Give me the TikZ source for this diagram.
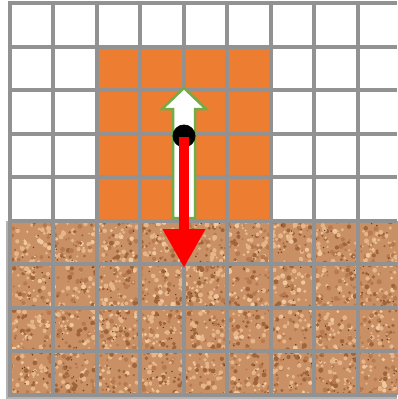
\documentclass[tikz,border=0pt]{standalone}
\usetikzlibrary{arrows.meta}
\definecolor{gridgray}{RGB}{146,146,146}
\definecolor{cellorange}{RGB}{237,125,49}
\definecolor{soilbase}{RGB}{200,144,100}
\definecolor{soildark}{RGB}{160,100,58}
\definecolor{soilvdark}{RGB}{105,60,32}
\definecolor{soillight}{RGB}{230,182,138}
\definecolor{soilpale}{RGB}{240,200,160}
\definecolor{soilmid}{RGB}{182,122,78}
\definecolor{arrowgreen}{RGB}{112,173,71}
\pgfmathdeclarerandomlist{soilcols}{{soildark}{soillight}{soilmid}{soillight}{soilpale}{soilmid}{soillight}{soildark}}
\tikzset{
  gridline/.style={draw=gridgray, line width=4pt},
  orangecell/.style={fill=cellorange},
  soilfill/.style={fill=soilbase},
  upblock/.style={fill=white, draw=arrowgreen, line width=2.5pt, line join=miter},
  pivot/.style={circle, fill=black, minimum size=23pt, inner sep=0pt},
  downvec/.style={draw=red, line width=10pt, -{Triangle[length=39pt,width=40pt]}},
}
\begin{document}
\begin{tikzpicture}[x=1pt,y=-1pt]
\useasboundingbox (0,0) rectangle (397,399);
\fill[white] (0,0) rectangle (397,399);
% orange cells
\fill[orangecell] (96,46.5) rectangle (270,220.5);
% soil
\fill[soilfill] (9.5,220.5) rectangle (401,394.5);
\begin{scope}
\clip (9.5,220.5) rectangle (397,394.5);
\pgfmathsetseed{7}
\foreach \i in {1,...,2600}{
  \pgfmathsetmacro\px{9.5+388*rnd}
  \pgfmathsetmacro\py{220.5+174*rnd}
  \pgfmathsetmacro\pr{1.0+1.6*rnd}
  \pgfmathrandomitem{\pc}{soilcols}
  \fill[\pc] (\px,\py) circle[radius=\pr];
}
\foreach \i in {1,...,220}{
  \pgfmathsetmacro\px{9.5+388*rnd}
  \pgfmathsetmacro\py{220.5+174*rnd}
  \fill[soilvdark] (\px,\py) circle[radius=0.8];
}
\end{scope}
% soil shadow
\fill[gray!60] (6,220.5) rectangle (9.5,398);
\fill[gray!60] (6,394.5) rectangle (397,398.5);
% grid
\foreach \k in {0,...,8}{
  \draw[gridline] ({9.5+43.5*\k},1) -- ({9.5+43.5*\k},396.5);
}
\foreach \k in {0,...,9}{
  \draw[gridline] (7.5,{3+43.5*\k}) -- (397,{3+43.5*\k});
}
% white up arrow
\draw[upblock] (184,88) -- (206,109) -- (195,109) -- (195,218) -- (173,218) -- (173,109) -- (162,109) -- cycle;
% pivot and red arrow
\node[pivot] (dot) at (184,136) {};
\coordinate (redtip) at (184,268);
\draw[downvec] (dot.center) ++(0,1) -- (redtip);
\end{tikzpicture}
\end{document}
